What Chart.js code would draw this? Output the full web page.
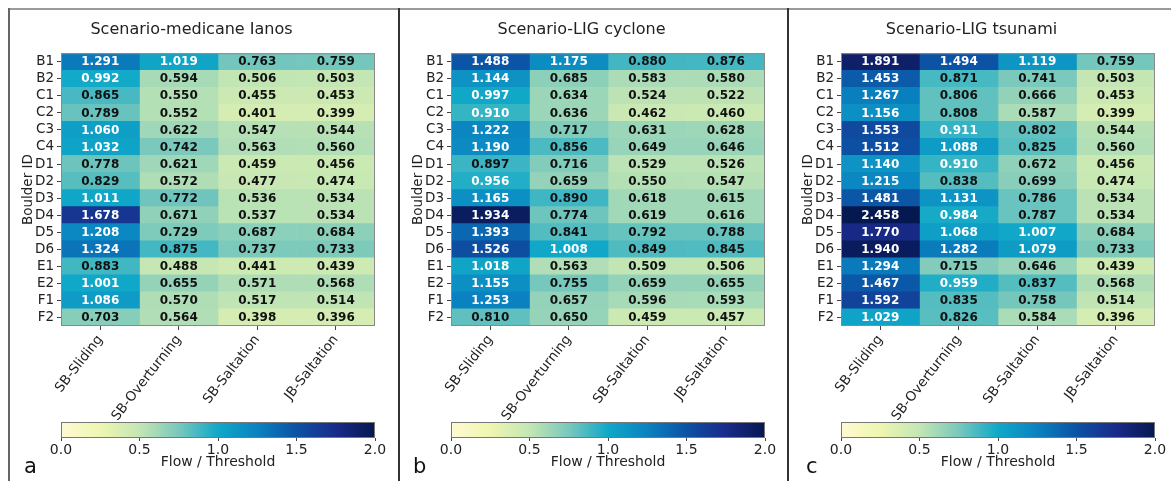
<!DOCTYPE html>
<html>
<head>
<meta charset="utf-8">
<script src="https://cdn.jsdelivr.net/npm/chart.js@4"></script>
<style>
  body { margin: 0; width: 1171px; height: 481px; background: #fff; overflow: hidden; position: relative; font-family: "DejaVu Sans", sans-serif; }
  canvas { position: absolute; }
  .line { position: absolute; }
  .letter { position: absolute; font-size: 21px; color: #111; line-height: 1; }
</style>
</head>
<body>
<div class="line" style="left:8px; top:8px; right:0; height:2px; background:#9a9a9a"></div>
<div class="line" style="left:8px; top:8px; bottom:0; width:2px; background:#666"></div>
<div class="line" style="left:398px; top:8px; bottom:0; width:2px; background:#333"></div>
<div class="line" style="left:787px; top:8px; bottom:0; width:2px; background:#333"></div>

<canvas id="heatA" width="385" height="420" style="left:8px; top:0"></canvas>
<canvas id="barA" width="385" height="71" style="left:8px; top:410px"></canvas>
<canvas id="heatB" width="385" height="420" style="left:398px; top:0"></canvas>
<canvas id="barB" width="385" height="71" style="left:398px; top:410px"></canvas>
<canvas id="heatC" width="385" height="420" style="left:788px; top:0"></canvas>
<canvas id="barC" width="385" height="71" style="left:788px; top:410px"></canvas>

<div class="letter" style="left:24px; top:456px">a</div>
<div class="letter" style="left:413px; top:456px">b</div>
<div class="letter" style="left:806px; top:456px">c</div>

<script>
const boulderIds = ["B1", "B2", "C1", "C2", "C3", "C4", "D1", "D2", "D3", "D4", "D5", "D6", "E1", "E2", "F1", "F2"];
const failureModes = ["SB-Sliding", "SB-Overturning", "SB-Saltation", "JB-Saltation"];
const colorbarTicks = [0, 0.5, 1, 1.5, 2];

// one inner array per failure mode, rows in boulderIds order
const ianosValues = [
    [1.291, 0.992, 0.865, 0.789, 1.060, 1.032, 0.778, 0.829, 1.011, 1.678, 1.208, 1.324, 0.883, 1.001, 1.086, 0.703],
    [1.019, 0.594, 0.550, 0.552, 0.622, 0.742, 0.621, 0.572, 0.772, 0.671, 0.729, 0.875, 0.488, 0.655, 0.570, 0.564],
    [0.763, 0.506, 0.455, 0.401, 0.547, 0.563, 0.459, 0.477, 0.536, 0.537, 0.687, 0.737, 0.441, 0.571, 0.517, 0.398],
    [0.759, 0.503, 0.453, 0.399, 0.544, 0.560, 0.456, 0.474, 0.534, 0.534, 0.684, 0.733, 0.439, 0.568, 0.514, 0.396]
];
const cycloneValues = [
    [1.488, 1.144, 0.997, 0.910, 1.222, 1.190, 0.897, 0.956, 1.165, 1.934, 1.393, 1.526, 1.018, 1.155, 1.253, 0.810],
    [1.175, 0.685, 0.634, 0.636, 0.717, 0.856, 0.716, 0.659, 0.890, 0.774, 0.841, 1.008, 0.563, 0.755, 0.657, 0.650],
    [0.880, 0.583, 0.524, 0.462, 0.631, 0.649, 0.529, 0.550, 0.618, 0.619, 0.792, 0.849, 0.509, 0.659, 0.596, 0.459],
    [0.876, 0.580, 0.522, 0.460, 0.628, 0.646, 0.526, 0.547, 0.615, 0.616, 0.788, 0.845, 0.506, 0.655, 0.593, 0.457]
];
const tsunamiValues = [
    [1.891, 1.453, 1.267, 1.156, 1.553, 1.512, 1.140, 1.215, 1.481, 2.458, 1.770, 1.940, 1.294, 1.467, 1.592, 1.029],
    [1.494, 0.871, 0.806, 0.808, 0.911, 1.088, 0.910, 0.838, 1.131, 0.984, 1.068, 1.282, 0.715, 0.959, 0.835, 0.826],
    [1.119, 0.741, 0.666, 0.587, 0.802, 0.825, 0.672, 0.699, 0.786, 0.787, 1.007, 1.079, 0.646, 0.837, 0.758, 0.584],
    [0.759, 0.503, 0.453, 0.399, 0.544, 0.560, 0.456, 0.474, 0.534, 0.534, 0.684, 0.733, 0.439, 0.568, 0.514, 0.396]
];

// YlGnBu-like ramp, a bit more saturated to match the printed figure
const ramp = ["#fffad2", "#eef6b0", "#c4e6b4", "#78c8bc", "#10a8c8", "#0a82c0", "#0c52a4", "#1a2a8a", "#061850"];
const vmax = 2;

function hexToRgb(h) {
    return [parseInt(h.substr(1, 2), 16), parseInt(h.substr(3, 2), 16), parseInt(h.substr(5, 2), 16)];
}

function colorFor(v) {
    var t = Math.max(0, Math.min(1, v / vmax)) * (ramp.length - 1);
    var i = Math.min(Math.floor(t), ramp.length - 2);
    var f = t - i;
    var a = hexToRgb(ramp[i]), b = hexToRgb(ramp[i + 1]);
    var c = a.map((x, k) => Math.round(x + (b[k] - x) * f));
    return "rgb(" + c.join(",") + ")";
}

const font = "DejaVu Sans";

// writes the value in each cell and draws the frame round the grid
const cellLabels = {
    id: "cellLabels",
    afterDatasetsDraw(chart, args, opts) {
        const ctx = chart.ctx;
        const area = chart.chartArea;
        ctx.save();
        ctx.font = "bold 12px '" + font + "'";
        ctx.textAlign = "center";
        ctx.textBaseline = "middle";
        chart.data.datasets.forEach((ds, c) => {
            chart.getDatasetMeta(c).data.forEach((el, r) => {
                const v = opts.values[c][r];
                ctx.fillStyle = v > 0.9 ? "#ffffff" : "#111111";
                ctx.fillText(v.toFixed(3), (el.x + el.base) / 2, el.y + 0.5);
            });
        });
        ctx.strokeStyle = "#8a8a8a";
        ctx.lineWidth = 1;
        ctx.strokeRect(area.left + 0.5, area.top + 0.5, area.width - 1, area.height - 1);
        ctx.restore();
    }
};

function makeHeatmap(id, title, values) {
    new Chart(document.getElementById(id), {
        type: "bar",
        data: {
            labels: boulderIds,
            datasets: failureModes.map((mode, c) => ({
                label: mode,
                data: boulderIds.map(() => [c - 0.5, c + 0.5]),
                backgroundColor: (ctx) => colorFor(values[c][ctx.dataIndex]),
                borderWidth: 0,
                grouped: false,
                barPercentage: 1,
                categoryPercentage: 1
            }))
        },
        options: {
            indexAxis: "y",
            responsive: false,
            animation: false,
            layout: { padding: { left: 0, right: 18, top: 0, bottom: 0 } },
            plugins: {
                legend: { display: false },
                tooltip: { enabled: false },
                title: {
                    display: true,
                    text: title,
                    color: "#222",
                    font: { family: font, size: 16, weight: "normal" },
                    padding: { top: 20, bottom: 14 }
                },
                cellLabels: { values: values }
            },
            scales: {
                y: {
                    type: "category",
                    offset: true,
                    border: { display: false },
                    grid: { offset: false, drawOnChartArea: false, tickLength: 4, color: "#444" },
                    ticks: { autoSkip: false, color: "#222", font: { family: font, size: 13.5 }, padding: 3 },
                    title: {
                        display: true,
                        text: "Boulder ID",
                        color: "#222",
                        font: { family: font, size: 13.5 },
                        padding: { top: 12, bottom: 0 }
                    },
                    afterFit: (s) => { s.width = 53; s.paddingTop = 0; s.paddingBottom = 0; }
                },
                x: {
                    type: "linear",
                    min: -0.5,
                    max: 3.5,
                    border: { display: false },
                    grid: { drawOnChartArea: false, tickLength: 4, color: "#444" },
                    afterBuildTicks: (s) => { s.ticks = failureModes.map((m, i) => ({ value: i })); },
                    ticks: {
                        autoSkip: false,
                        minRotation: 52,
                        maxRotation: 52,
                        padding: 2,
                        color: "#222",
                        font: { family: font, size: 13.5 },
                        callback: (v, i) => failureModes[i]
                    },
                    afterFit: (s) => { s.height = 94; s.paddingLeft = 0; s.paddingRight = 0; }
                }
            }
        },
        plugins: [cellLabels]
    });
}

const barFrame = {
    id: "barFrame",
    afterDatasetsDraw(chart) {
        const ctx = chart.ctx;
        const area = chart.chartArea;
        ctx.save();
        ctx.strokeStyle = "#777";
        ctx.lineWidth = 1;
        ctx.strokeRect(area.left + 0.5, area.top + 0.5, area.width - 1, area.height - 1);
        ctx.restore();
    }
};

function makeColorbar(id) {
    new Chart(document.getElementById(id), {
        type: "bar",
        data: {
            labels: ["scale"],
            datasets: [{
                data: [[0, vmax]],
                backgroundColor: (ctx) => {
                    const chart = ctx.chart;
                    if (!chart.chartArea) return ramp[4];
                    const xs = chart.scales.x;
                    const g = chart.ctx.createLinearGradient(xs.getPixelForValue(0), 0, xs.getPixelForValue(vmax), 0);
                    ramp.forEach((col, i) => g.addColorStop(i / (ramp.length - 1), col));
                    return g;
                },
                borderWidth: 0,
                barPercentage: 1,
                categoryPercentage: 1
            }]
        },
        options: {
            indexAxis: "y",
            responsive: false,
            animation: false,
            layout: { padding: { left: 53, right: 18, top: 12, bottom: 0 } },
            plugins: { legend: { display: false }, tooltip: { enabled: false } },
            scales: {
                y: { display: false },
                x: {
                    type: "linear",
                    min: 0,
                    max: vmax,
                    border: { display: false },
                    grid: { drawOnChartArea: false, tickLength: 3, color: "#444" },
                    afterBuildTicks: (s) => { s.ticks = colorbarTicks.map((v) => ({ value: v })); },
                    ticks: {
                        padding: 1,
                        maxRotation: 0,
                        color: "#222",
                        font: { family: font, size: 14 },
                        callback: (v) => v.toFixed(1)
                    },
                    title: {
                        display: true,
                        text: "Flow / Threshold",
                        color: "#222",
                        font: { family: font, size: 14 },
                        padding: { top: 0, bottom: 10 }
                    },
                    afterFit: (s) => { s.height = 43; }
                }
            }
        },
        plugins: [barFrame]
    });
}

makeHeatmap("heatA", "Scenario-medicane Ianos", ianosValues);
makeHeatmap("heatB", "Scenario-LIG cyclone", cycloneValues);
makeHeatmap("heatC", "Scenario-LIG tsunami", tsunamiValues);
makeColorbar("barA");
makeColorbar("barB");
makeColorbar("barC");
</script>
</body>
</html>
